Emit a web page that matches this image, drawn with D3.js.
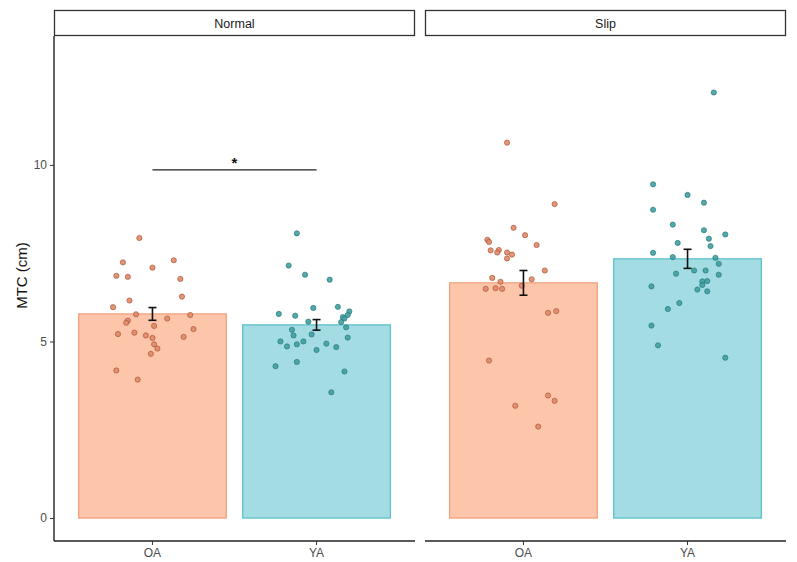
<!DOCTYPE html>
<html><head><meta charset="utf-8">
<script src="https://cdn.jsdelivr.net/npm/d3@7"></script>
<style>body{margin:0;background:#fff}</style>
</head><body>
<script>
const panels = ["Normal", "Slip"];
const groups = ["OA", "YA"];
const yTicks = [0, 5, 10];
// bar means and standard errors, per panel, per group
const means = {Normal: [5.78, 5.47], Slip: [6.66, 7.34]};
const ses = {Normal: [0.18, 0.15], Slip: [0.35, 0.27]};
// individual points: value and jitter (in category units)
const normalOA = [7.93,7.24,7.09,7.30,6.86,6.83,6.77,6.27,6.16,5.97,5.77,5.75,5.65,5.59,5.53,5.44,5.35,5.21,5.25,5.17,5.10,5.13,4.92,4.80,4.65,4.18,3.92];
const normalOAJit = [-0.08,-0.18,0.00,0.13,-0.22,-0.15,0.17,0.18,-0.14,-0.24,-0.10,0.23,0.09,-0.15,-0.16,0.01,0.25,-0.21,-0.11,-0.04,0.00,0.19,0.01,0.03,-0.01,-0.22,-0.09];
const normalYA = [8.06,7.15,6.89,6.75,5.78,5.73,5.95,5.98,5.85,5.75,5.69,5.65,5.56,5.55,5.40,5.33,5.17,5.20,5.11,5.00,5.00,4.86,4.92,4.94,4.84,4.76,4.30,4.42,4.15,3.56];
const normalYAJit = [-0.12,-0.17,-0.07,0.08,-0.23,-0.13,-0.02,0.13,0.20,0.19,0.16,0.17,-0.05,0.15,0.18,-0.15,-0.14,-0.03,0.19,-0.22,-0.08,-0.18,-0.12,0.06,0.12,0.00,-0.25,-0.12,0.17,0.09];
const slipOA = [10.63,8.89,8.22,8.01,7.88,7.82,7.73,7.58,7.59,7.52,7.52,7.46,7.35,7.01,6.80,6.76,6.69,6.58,6.49,6.51,6.49,5.81,5.86,4.46,3.47,3.32,3.18,2.59];
const slipOAJit = [-0.10,0.19,-0.06,0.01,-0.22,-0.21,0.08,-0.20,-0.15,-0.16,-0.10,-0.07,-0.10,0.13,-0.19,0.05,-0.14,-0.01,-0.23,-0.17,-0.13,0.15,0.20,-0.21,0.15,0.19,-0.05,0.09];
const slipYA = [12.05,9.45,9.15,8.93,8.73,8.31,8.15,8.03,7.91,7.79,7.70,7.51,7.39,7.37,7.20,7.01,7.01,6.92,6.89,6.70,6.71,6.60,6.56,6.47,6.42,6.09,5.92,5.45,4.89,4.54];
const slipYAJit = [0.16,-0.21,0.00,0.10,-0.21,-0.09,0.10,0.23,0.13,-0.06,0.14,-0.21,-0.09,0.17,0.19,0.04,0.11,-0.07,0.19,0.09,0.12,0.09,-0.22,0.06,0.12,-0.05,-0.12,-0.22,-0.18,0.23];
const pointSets = {Normal: [[normalOA, normalOAJit], [normalYA, normalYAJit]], Slip: [[slipOA, slipOAJit], [slipYA, slipYAJit]]};
const sigLabel = "*";
const sigY = 9.86;

const barFill = ["#FDC5A9", "#A3DCE3"];
const barStroke = ["#F0A47E", "#5EC2CA"];
const ptFill = ["#E08A68", "#3FA0A1"];
const ptStroke = ["#A9583A", "#2A7A7B"];

const W = 797, H = 562;
const svg = d3.select("body").append("svg").attr("width", W).attr("height", H)
  .style("font-family", "Liberation Sans, Arial, sans-serif");

const topY = 36, bottomY = 541;
const panelX = {Normal: [54, 415], Slip: [425, 786]};
const y = d3.scaleLinear().domain([-0.65, 13.65]).range([bottomY, topY]);

panels.forEach((p, pi) => {
  const [x0, x1] = panelX[p];
  // discrete scale with 0.6 expansion
  const xc = d3.scaleLinear().domain([-0.6, 1.6]).range([x0, x1]);
  const g = svg.append("g");
  // strip
  g.append("rect").attr("x", x0 + 0.5).attr("y", 10.5).attr("width", x1 - x0 - 1).attr("height", 25)
    .attr("fill", "#fff").attr("stroke", "#333").attr("stroke-width", 1.3);
  g.append("text").attr("x", (x0 + x1) / 2).attr("y", 28).attr("text-anchor", "middle")
    .attr("font-size", 12.5).attr("fill", "#1a1a1a").text(p);

  groups.forEach((grp, gi) => {
    const cx = xc(gi);
    const bw = xc(0.45) - xc(0);
    g.append("rect").attr("x", cx - bw).attr("y", y(means[p][gi])).attr("width", 2 * bw)
      .attr("height", y(0) - y(means[p][gi])).attr("fill", barFill[gi])
      .attr("stroke", barStroke[gi]).attr("stroke-width", 1.3);
  });
  groups.forEach((grp, gi) => {
    const [vals, jit] = pointSets[p][gi];
    g.selectAll(null).data(vals.map((v, i) => [v, jit[i]])).enter().append("circle")
      .attr("cx", d => xc(gi + d[1])).attr("cy", d => y(d[0])).attr("r", 2.6)
      .attr("fill", ptFill[gi]).attr("stroke", ptStroke[gi]).attr("stroke-width", 0.7)
      .attr("fill-opacity", 0.9);
  });
  groups.forEach((grp, gi) => {
    const cx = xc(gi), m = means[p][gi], s = ses[p][gi];
    const e = g.append("g").attr("stroke", "#111").attr("stroke-width", 1.6);
    e.append("line").attr("x1", cx).attr("x2", cx).attr("y1", y(m + s)).attr("y2", y(m - s));
    e.append("line").attr("x1", cx - 4).attr("x2", cx + 4).attr("y1", y(m + s)).attr("y2", y(m + s));
    e.append("line").attr("x1", cx - 4).attr("x2", cx + 4).attr("y1", y(m - s)).attr("y2", y(m - s));
  });
  // x axis
  const xa = g.append("g");
  xa.append("line").attr("x1", x0).attr("x2", x1).attr("y1", bottomY).attr("y2", bottomY)
    .attr("stroke", "#222").attr("stroke-width", 1.4);
  groups.forEach((grp, gi) => {
    xa.append("line").attr("x1", xc(gi)).attr("x2", xc(gi)).attr("y1", bottomY).attr("y2", bottomY + 4)
      .attr("stroke", "#333");
    xa.append("text").attr("x", xc(gi)).attr("y", bottomY + 16).attr("text-anchor", "middle")
      .attr("font-size", 12).attr("fill", "#4d4d4d").text(grp);
  });
  if (pi === 0) {
    g.append("line").attr("x1", x0).attr("x2", x0).attr("y1", topY).attr("y2", bottomY)
      .attr("stroke", "#222").attr("stroke-width", 1.4);
    const ya = d3.axisLeft(y).tickValues(yTicks).tickSize(4).tickFormat(d3.format("d"));
    const yg = g.append("g").attr("transform", `translate(${x0},0)`).call(ya);
    yg.select(".domain").remove();
    yg.selectAll("text").attr("font-size", 12).attr("fill", "#4d4d4d").attr("font-family", "Liberation Sans, Arial, sans-serif");
    yg.selectAll("line").attr("stroke", "#333");
    // significance
    g.append("line").attr("x1", xc(0)).attr("x2", xc(1)).attr("y1", y(sigY)).attr("y2", y(sigY))
      .attr("stroke", "#222").attr("stroke-width", 1.1);
    g.append("text").attr("x", (xc(0) + xc(1)) / 2).attr("y", y(sigY) - 2).attr("text-anchor", "middle")
      .attr("font-size", 15).attr("font-weight", "bold").attr("fill", "#111").text(sigLabel);
  }
});
svg.append("text").attr("transform", `translate(27,${(topY + bottomY) / 2 - 13}) rotate(-90)`)
  .attr("text-anchor", "middle").attr("font-size", 15).attr("fill", "#111").text("MTC (cm)");
</script>
</body></html>
